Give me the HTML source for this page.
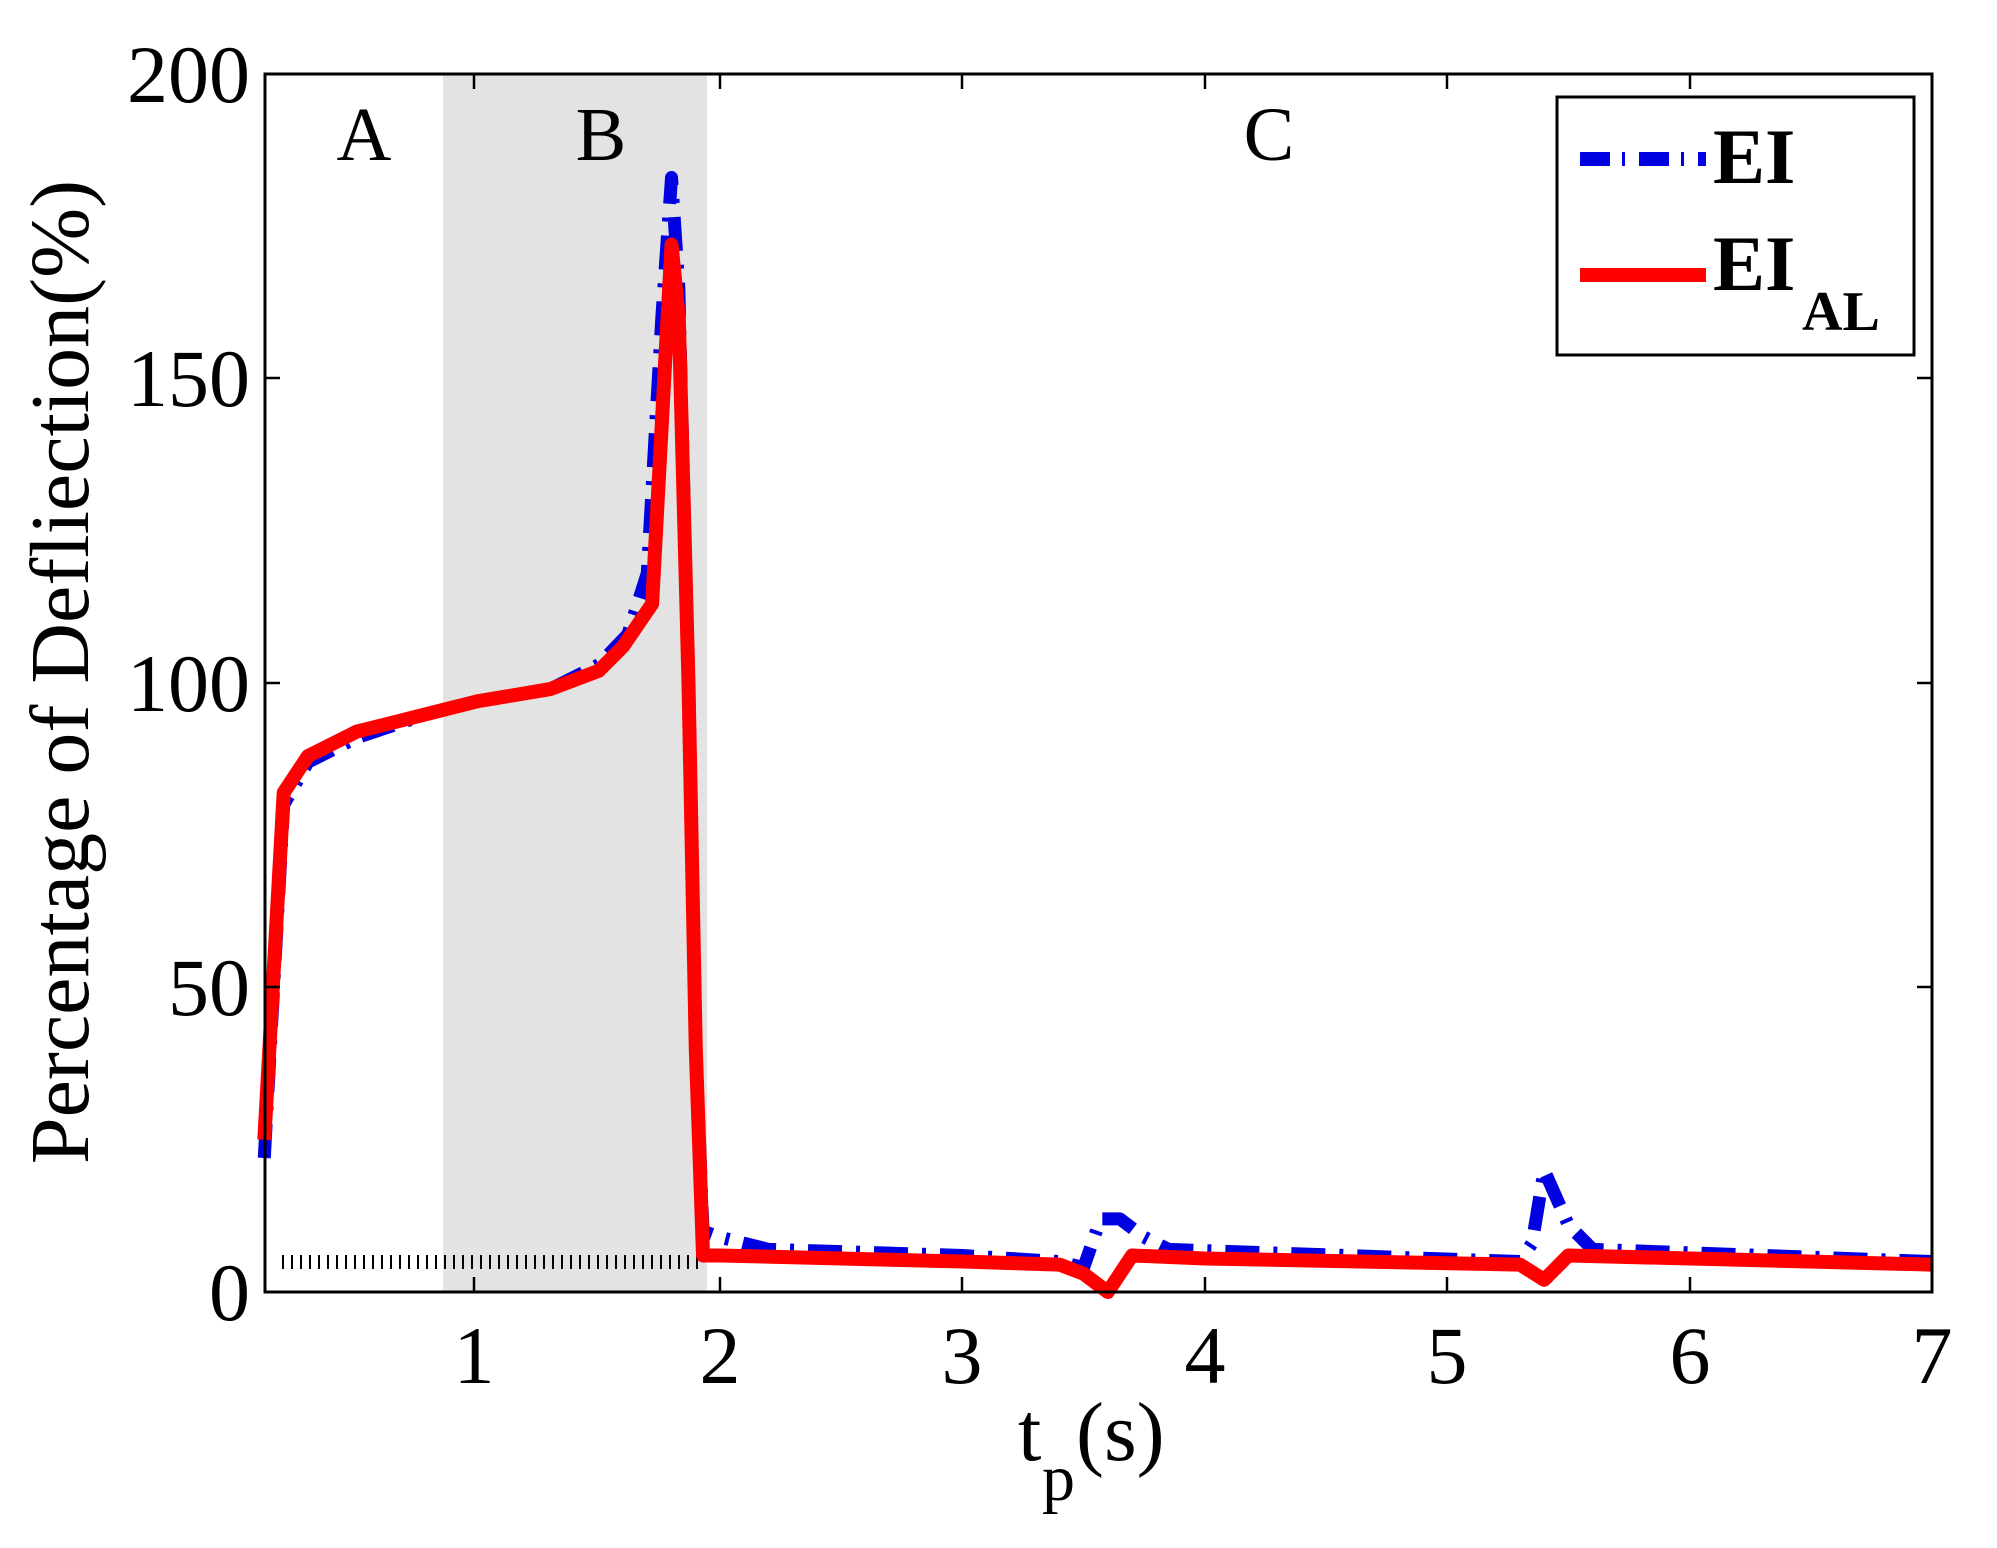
<!DOCTYPE html>
<html><head><meta charset="utf-8"><style>
html,body{margin:0;padding:0;background:#fff;}
svg{display:block;}
text{font-family:"Liberation Serif",serif;fill:#000;}
</style></head><body>
<svg width="1997" height="1548" viewBox="0 0 1997 1548" xmlns="http://www.w3.org/2000/svg">
<rect x="443" y="74" width="264" height="1218" fill="#e3e3e3"/>
<line x1="282" y1="1262" x2="700" y2="1262" stroke="#000" stroke-width="14" stroke-dasharray="2 7"/>
<g transform="translate(235.2 1292) scale(242.4 -6.09)" fill="none" stroke-linejoin="round">
<polyline vector-effect="non-scaling-stroke" stroke="#0000e0" stroke-width="13" stroke-dasharray="34 14 4 14"
points="0.12,22 0.2,80 0.3,87 0.5,91 0.8,95 1.0,97 1.3,99 1.5,103 1.62,108 1.7,118 1.76,160 1.8,183 1.83,165 1.87,100 1.9,40 1.93,10 2.0,9 2.2,7 3.0,6 3.4,5 3.5,4 3.57,12 3.65,12 3.75,9 3.85,7 5.3,5 5.35,8 5.4,20 5.5,11 5.6,7 7,5"/>
<polyline vector-effect="non-scaling-stroke" stroke="#ff0000" stroke-width="14"
points="0.12,25 0.2,82 0.3,88 0.5,92 0.8,95 1.0,97 1.3,99 1.5,102 1.6,106 1.72,113 1.77,150 1.8,172 1.83,160 1.87,100 1.9,40 1.93,6 2.0,6 3.0,5 3.4,4.5 3.5,3 3.6,0 3.7,6 4.0,5.5 5.3,4.5 5.4,2 5.5,6 7,4.5"/>
</g>
<rect x="265" y="74" width="1667" height="1218" fill="none" stroke="#000" stroke-width="3"/>
<g stroke="#000" stroke-width="2.5">
<line x1="474" y1="1292" x2="474" y2="1277"/><line x1="474" y1="74" x2="474" y2="89"/>
<line x1="720" y1="1292" x2="720" y2="1277"/><line x1="720" y1="74" x2="720" y2="89"/>
<line x1="962" y1="1292" x2="962" y2="1277"/><line x1="962" y1="74" x2="962" y2="89"/>
<line x1="1205" y1="1292" x2="1205" y2="1277"/><line x1="1205" y1="74" x2="1205" y2="89"/>
<line x1="1447" y1="1292" x2="1447" y2="1277"/><line x1="1447" y1="74" x2="1447" y2="89"/>
<line x1="1690" y1="1292" x2="1690" y2="1277"/><line x1="1690" y1="74" x2="1690" y2="89"/>
<line x1="265" y1="987" x2="280" y2="987"/><line x1="1932" y1="987" x2="1917" y2="987"/>
<line x1="265" y1="683" x2="280" y2="683"/><line x1="1932" y1="683" x2="1917" y2="683"/>
<line x1="265" y1="378" x2="280" y2="378"/><line x1="1932" y1="378" x2="1917" y2="378"/>
</g>
<g font-size="82" text-anchor="middle">
<text x="474" y="1383">1</text><text x="720" y="1383">2</text><text x="962" y="1383">3</text>
<text x="1205" y="1383">4</text><text x="1447" y="1383">5</text><text x="1690" y="1383">6</text><text x="1932" y="1383">7</text>
</g>
<g font-size="82" text-anchor="end">
<text x="250" y="1320">0</text><text x="250" y="1015">50</text><text x="250" y="711">100</text>
<text x="250" y="406">150</text><text x="250" y="102">200</text>
</g>
<text x="0" y="0" font-size="84" text-anchor="middle" transform="translate(88 672) rotate(-90)">Percentage of Defliection(%)</text>
<text x="1018" y="1460" font-size="84">t</text><text x="1042" y="1500" font-size="66">p</text><text x="1076" y="1460" font-size="84">(s)</text>
<g font-size="76" text-anchor="middle">
<text x="364" y="160">A</text><text x="601" y="160">B</text><text x="1269" y="160">C</text>
</g>
<rect x="1557" y="97" width="357" height="258" fill="#fff" stroke="#000" stroke-width="3"/>
<line x1="1580" y1="159" x2="1706" y2="159" stroke="#0000e0" stroke-width="14" stroke-dasharray="30 12 3 14"/>
<line x1="1580" y1="275" x2="1706" y2="275" stroke="#ff0000" stroke-width="14"/>
<g font-weight="bold">
<text x="1713" y="183" font-size="78">EI</text>
<text x="1713" y="290" font-size="78">EI</text>
<text x="1802" y="330" font-size="56">AL</text>
</g>
</svg>
</body></html>
